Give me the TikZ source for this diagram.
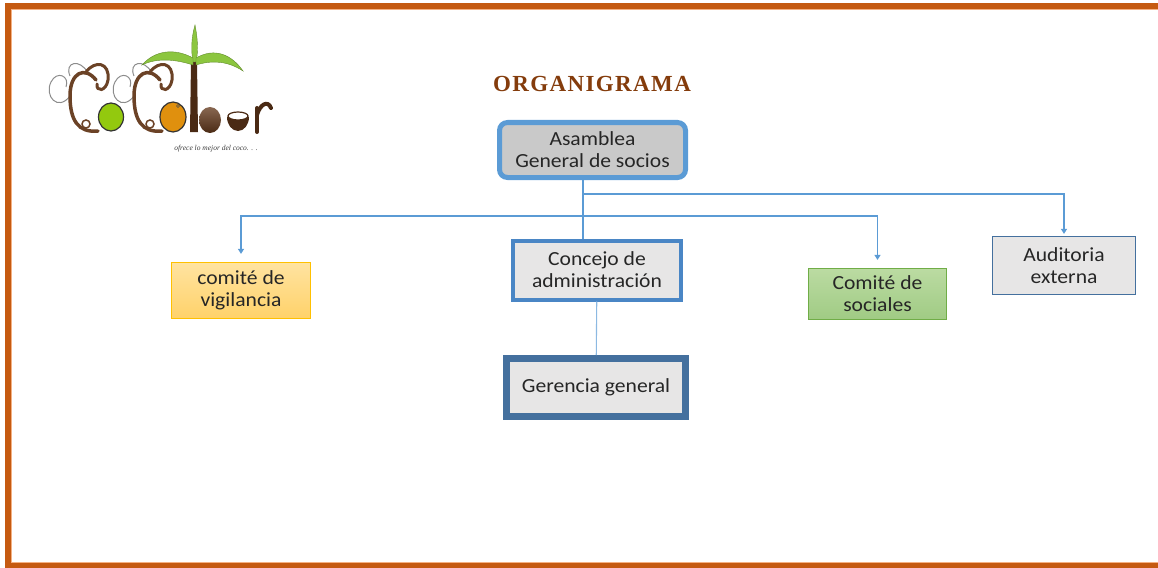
\documentclass[tikz,border=0pt]{standalone}
\usepackage{fontspec}
\setmainfont{Carlito}[FakeStretch=1.08]
\newfontfamily\titlefont{Liberation Serif}[LetterSpace=6]
\newfontfamily\lemafont{Liberation Serif}
\usetikzlibrary{arrows.meta}
\definecolor{naranja}{HTML}{C55A11}
\definecolor{naranjaclaro}{HTML}{F4B183}
\definecolor{azul}{HTML}{5B9BD5}
\definecolor{azulmedio}{HTML}{4A86C5}
\definecolor{azuloscuro}{HTML}{44709E}
\definecolor{gris}{HTML}{C9C9C9}
\definecolor{grisclaro}{HTML}{E7E6E6}
\definecolor{oro}{HTML}{FFC000}
\definecolor{verde}{HTML}{70AD47}
\definecolor{titulo}{HTML}{843C0C}
\definecolor{texto}{HTML}{262626}
\definecolor{hoja}{HTML}{8CC63F}
\definecolor{cafe}{HTML}{6B4226}
\definecolor{coco}{HTML}{4A2A14}
\definecolor{grislogo}{HTML}{8C8C8C}

\begin{document}
\begin{tikzpicture}[x=1pt,y=-1pt,
    caja/.style={draw, align=center, text=texto, inner sep=0pt,
        font=\fontsize{20}{22}\selectfont},
    link/.style={draw=azul, line width=1.1pt},
    flecha/.style={link, -{Triangle[width=6pt,length=5pt]}}]
    \useasboundingbox (0,0) rectangle (1158,567);
    \draw[naranja, line width=6pt] (7.5,6) rectangle (1175,566);
    \draw[naranjaclaro, line width=1pt] (11,9.5) -- (1175,9.5);
    \draw[naranjaclaro, line width=1pt] (11,9.5) -- (11,562.5) -- (1175,562.5);

    % logo
    \foreach \dx in {0,64} {
        \begin{scope}[xshift=\dx]
        \draw[grislogo, line width=1pt] (70,96) .. controls (58,112) and (44,96) .. (51,82)
            .. controls (57,70) and (70,76) .. (66,87);
        \draw[grislogo, line width=1pt] (88,73) .. controls (80,58) and (64,62) .. (70,76);
        \draw[cafe, line width=3.5pt, line cap=round] (96,80) .. controls (85,66) and (70,72) .. (70,96)
            .. controls (70,120) and (78,133) .. (98,131);
        \draw[cafe, line width=3pt, line cap=round] (86,72) .. controls (95,60) and (110,62) .. (108,80)
            .. controls (106,92) and (96,92) .. (97,84);
        \draw[cafe, line width=1.5pt] (86,124) circle (4);
        \end{scope}
    }
    \fill[coco] (191,62) -- (197,62) -- (198,132) -- (190,132) -- cycle;
    \filldraw[fill=hoja, draw=hoja!70!black, line width=0.4pt] (193,62) .. controls (190,45) and (193,32) .. (195,25)
        .. controls (197,35) and (199,50) .. (196,62) -- cycle;
    \filldraw[fill=hoja, draw=hoja!70!black, line width=0.4pt] (193,58) .. controls (175,48) and (155,50) .. (142,65)
        .. controls (158,57) and (178,60) .. (193,65) -- cycle;
    \filldraw[fill=hoja, draw=hoja!70!black, line width=0.4pt] (196,58) .. controls (215,47) and (232,55) .. (243,71)
        .. controls (228,61) and (212,60) .. (196,65) -- cycle;
    \filldraw[fill={rgb,255:red,147;green,201;blue,14}, draw=black!80, line width=1.2pt] (111,117) ellipse (12.5 and 14);
    \filldraw[fill={rgb,255:red,224;green,144;blue,14}, draw=black!80, line width=1.2pt] (173,117) ellipse (13 and 15);
    \draw[black!70, line width=0.6pt] (178,106) circle (1.5);
    \shade[top color=cafe!80!white, bottom color=coco] (210,120) ellipse (11 and 13);
    \fill[coco] (249,117) arc[start angle=0, end angle=180, x radius=11, y radius=14] -- cycle;
    \filldraw[fill=white, draw=coco, line width=1.2pt] (238,116) ellipse (10 and 4);
    \draw[coco, line width=4pt, line cap=round] (257,132) -- (257,108);
    \draw[coco, line width=4pt, line cap=round] (257,115) .. controls (260,104) and (268,100) .. (271,108);
    \node[font=\lemafont\itshape\fontsize{7.5}{8}\selectfont, text=black!75] (lema) at (216,149) {ofrece lo mejor del coco. . .};

    \node[font=\titlefont\bfseries\fontsize{23}{26}\selectfont, text=titulo] (titulo) at (592,84) {ORGANIGRAMA};

    % cajas
    \node[caja, rounded corners=8pt, line width=5pt, draw=azul, fill=gris,
        minimum width=186pt, minimum height=55pt] (asamblea) at (592.5,150) {Asamblea\\General de socios};
    \node[caja, line width=4pt, draw=azulmedio, fill=grisclaro,
        minimum width=168pt, minimum height=59pt] (concejo) at (597,270) {Concejo de\\administración};
    \node[caja, line width=7pt, draw=azuloscuro, fill=grisclaro,
        minimum width=179pt, minimum height=58pt] (gerencia) at (596,387.5) {Gerencia general};
    \node[caja, line width=1.2pt, draw=oro, top color={rgb,255:red,255;green,227;blue,160},
        bottom color={rgb,255:red,255;green,210;blue,106},
        minimum width=139pt, minimum height=56pt] (vigilancia) at (241,290.5) {comité de\\vigilancia};
    \node[caja, line width=1.2pt, draw=verde, top color={rgb,255:red,187;green,219;blue,162},
        bottom color={rgb,255:red,160;green,203;blue,132},
        minimum width=138pt, minimum height=51pt] (sociales) at (877.5,294) {Comité de\\sociales};
    \node[caja, line width=1.2pt, draw=azuloscuro, fill=grisclaro,
        minimum width=143pt, minimum height=58pt] (auditoria) at (1064,265.5) {Auditoria\\externa};

    % conectores
    \coordinate (tronco) at (583,180);
    \coordinate (ramaA) at (583,194);
    \coordinate (ramaB) at (583,216);
    \draw[link] (tronco) -- (tronco |- concejo.north);
    \draw[flecha, shorten >=2pt] (ramaA) -| (auditoria.north);
    \draw[flecha, shorten >=8pt] (ramaB) -| (vigilancia.north);
    \draw[flecha, shorten >=8pt] (ramaB) -| (sociales.north);
    \draw[link, draw=azul!70] (concejo) -- (gerencia);
\end{tikzpicture}
\end{document}
